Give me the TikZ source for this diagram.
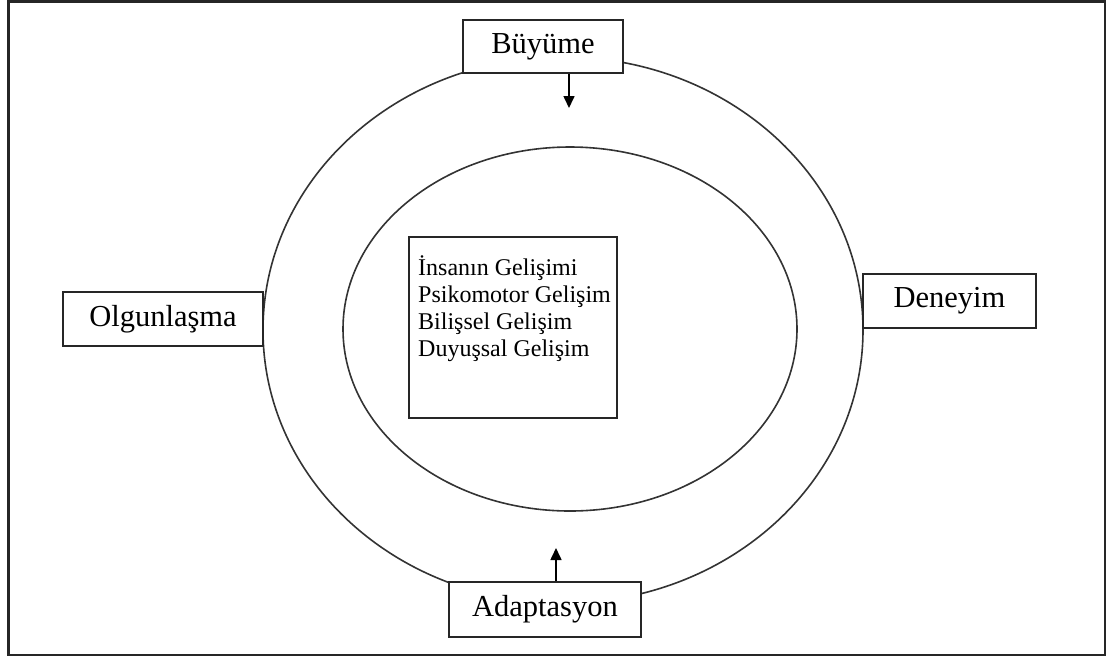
\documentclass[tikz,border=0pt]{standalone}
\usepackage{fontspec}
\setmainfont{Liberation Serif}
\usetikzlibrary{arrows.meta}
\begin{document}
\begin{tikzpicture}[x=1pt,y=-1pt,
  ring/.style={draw=black!80, line width=1.6pt},
  labelbox/.style={draw=black!85, fill=white, line width=1.6pt, inner sep=0pt,
    font=\fontsize{30.5}{36}\selectfont},
  arr/.style={line width=1.6pt, -{Triangle[length=12pt,width=11pt]}}]
\useasboundingbox (0,0) rectangle (1120,657);
\draw[line width=2.4pt, black!85] (8.5,1.5) rectangle (1105,655);
\draw[ring] (563,330) ellipse [x radius=300, y radius=273];
\draw[ring] (570,329) ellipse [x radius=227, y radius=182];
\node[labelbox, minimum width=160pt, minimum height=53pt] (buyume) at (543,46.5) {Büyüme};
\node[labelbox, minimum width=200pt, minimum height=54pt] (olgun) at (163,319) {Olgunlaşma};
\node[labelbox, minimum width=173pt, minimum height=54pt] (deneyim) at (949.5,301) {Deneyim};
\node[labelbox, minimum width=192pt, minimum height=55pt] (adapt) at (545,609.5) {Adaptasyon};
\node[draw=black!85, line width=1.6pt, minimum width=208pt, minimum height=181pt, inner sep=0pt] (center) at (513,327.5) {};
\node[anchor=north west, align=left, inner sep=0pt, font=\fontsize{24}{27}\selectfont] (ctext) at (418,255)
  {İnsanın Gelişimi\\Psikomotor Gelişim\\Bilişsel Gelişim\\Duyuşsal Gelişim};
\coordinate (a1) at (569,108);
\coordinate (a2) at (556,548);
\draw[arr] (buyume.south -| a1) -- (a1);
\draw[arr] (adapt.north -| a2) -- (a2);
\end{tikzpicture}
\end{document}
